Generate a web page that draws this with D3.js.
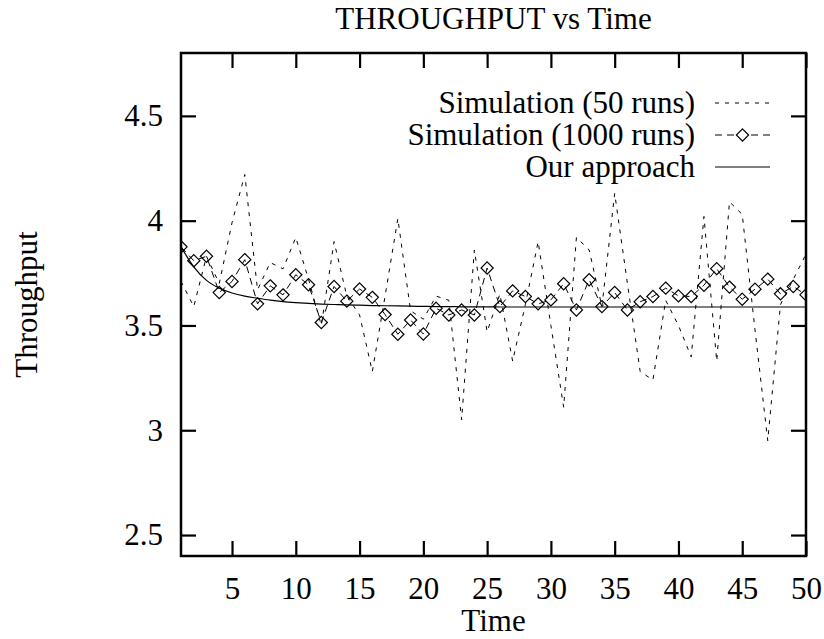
<!DOCTYPE html>
<html>
<head>
<meta charset="utf-8">
<script src="https://cdn.jsdelivr.net/npm/d3@7"></script>
<style>
  body { margin: 0; background: #fff; }
  svg text { font-family: "Liberation Serif", "Times New Roman", serif; fill: #000; }
</style>
</head>
<body>
<div id="chart"></div>
<script>
// -----------------------------
// DATA
// -----------------------------
const timeSteps = d3.range(1, 51);

// Simulation (50 runs) - short dashed line
const sim50 = [
  3.71, 3.59, 3.83, 3.70, 3.99, 4.22, 3.67, 3.80, 3.77, 3.92,
  3.72, 3.50, 3.90, 3.64, 3.55, 3.28, 3.64, 4.01, 3.57, 3.53,
  3.64, 3.62, 3.05, 3.86, 3.47, 3.65, 3.33, 3.60, 3.90, 3.50,
  3.11, 3.92, 3.86, 3.59, 4.13, 3.70, 3.28, 3.24, 3.62, 3.50,
  3.35, 4.02, 3.33, 4.09, 4.03, 3.48, 2.95, 3.60, 3.72, 3.84
];

// Simulation (1000 runs) - diamonds + long dashes
const sim1000 = [
  3.875, 3.809, 3.830, 3.657, 3.710, 3.814, 3.603, 3.689, 3.646, 3.742,
  3.694, 3.514, 3.686, 3.616, 3.674, 3.634, 3.552, 3.458, 3.526, 3.459,
  3.582, 3.550, 3.574, 3.550, 3.774, 3.590, 3.665, 3.638, 3.603, 3.622,
  3.699, 3.574, 3.718, 3.590, 3.657, 3.574, 3.613, 3.638, 3.678, 3.641,
  3.638, 3.692, 3.771, 3.683, 3.625, 3.673, 3.721, 3.651, 3.686, 3.646
];

// Our approach - solid curve
const approach = [
  3.875, 3.780, 3.715, 3.678, 3.655, 3.640, 3.630, 3.621, 3.614, 3.609,
  3.605, 3.602, 3.600, 3.598, 3.597, 3.595, 3.594, 3.593, 3.592, 3.591,
  3.590, 3.590, 3.589, 3.589, 3.589, 3.588, 3.588, 3.588, 3.588, 3.588,
  3.588, 3.588, 3.588, 3.588, 3.588, 3.588, 3.588, 3.588, 3.588, 3.588,
  3.588, 3.588, 3.588, 3.588, 3.588, 3.588, 3.588, 3.588, 3.588, 3.588
];

const xTicks = [5, 10, 15, 20, 25, 30, 35, 40, 45, 50];
const yTicks = [2.5, 3, 3.5, 4, 4.5];
const seriesNames = ["Simulation (50 runs)", "Simulation (1000 runs)", "Our approach"];

// -----------------------------
// LAYOUT
// -----------------------------
const width = 824;
const height = 639;
const plot = { left: 181, right: 806, top: 53, bottom: 556 };
const fontSize = 31;
const tickLen = 15;

const svg = d3.select("#chart")
  .append("svg")
  .attr("width", width)
  .attr("height", height);

// -----------------------------
// SCALES
// -----------------------------
const x = d3.scaleLinear().domain([1, 50]).range([plot.left, plot.right]);
const y = d3.scaleLinear().domain([2.4, 4.8]).range([plot.bottom, plot.top]);

svg.append("clipPath").attr("id", "plot-clip")
  .append("rect")
  .attr("x", plot.left).attr("y", plot.top)
  .attr("width", plot.right - plot.left)
  .attr("height", plot.bottom - plot.top);

// -----------------------------
// AXES (gnuplot style: inward ticks, mirrored)
// -----------------------------
const styleAxis = (g) => {
  g.select(".domain").remove();
  g.selectAll(".tick line").attr("stroke", "#000").attr("stroke-width", 2.2);
  g.selectAll(".tick text").style("font-size", fontSize + "px");
};

svg.append("g")
  .attr("transform", `translate(0,${plot.bottom})`)
  .call(d3.axisBottom(x).tickValues(xTicks).tickSizeInner(-tickLen).tickSizeOuter(0).tickPadding(21))
  .call(styleAxis);

svg.append("g")
  .attr("transform", `translate(0,${plot.top})`)
  .call(d3.axisTop(x).tickValues(xTicks).tickSizeInner(-tickLen).tickSizeOuter(0).tickFormat(""))
  .call(styleAxis);

svg.append("g")
  .attr("transform", `translate(${plot.left},0)`)
  .call(d3.axisLeft(y).tickValues(yTicks).tickSizeInner(-tickLen).tickSizeOuter(0).tickPadding(18)
    .tickFormat(d3.format("")))
  .call(styleAxis);

svg.append("g")
  .attr("transform", `translate(${plot.right},0)`)
  .call(d3.axisRight(y).tickValues(yTicks).tickSizeInner(-tickLen).tickSizeOuter(0).tickFormat(""))
  .call(styleAxis);

// Frame
svg.append("rect")
  .attr("x", plot.left).attr("y", plot.top)
  .attr("width", plot.right - plot.left)
  .attr("height", plot.bottom - plot.top)
  .attr("fill", "none")
  .attr("stroke", "#000")
  .attr("stroke-width", 2.5);

// Title + axis labels
svg.append("text")
  .attr("x", (plot.left + plot.right) / 2)
  .attr("y", 29)
  .attr("text-anchor", "middle")
  .style("font-size", fontSize + "px")
  .text("THROUGHPUT vs Time");

svg.append("text")
  .attr("x", (plot.left + plot.right) / 2)
  .attr("y", 631)
  .attr("text-anchor", "middle")
  .style("font-size", fontSize + "px")
  .text("Time");

svg.append("text")
  .attr("transform", `translate(37,${(plot.top + plot.bottom) / 2}) rotate(-90)`)
  .attr("text-anchor", "middle")
  .style("font-size", fontSize + "px")
  .text("Throughput");

// -----------------------------
// SERIES
// -----------------------------
const lineGen = (values, curve) => d3.line()
  .x((d, i) => x(timeSteps[i]))
  .y(d => y(d))
  .curve(curve)(values);

const diamond = d3.symbol().type(d3.symbolDiamond2).size(95);

const g = svg.append("g").attr("clip-path", "url(#plot-clip)");

g.append("path")
  .attr("d", lineGen(sim50, d3.curveLinear))
  .attr("fill", "none")
  .attr("stroke", "#000")
  .attr("stroke-width", 1)
  .attr("stroke-dasharray", "4,6");

g.append("path")
  .attr("d", lineGen(sim1000, d3.curveLinear))
  .attr("fill", "none")
  .attr("stroke", "#000")
  .attr("stroke-width", 1)
  .attr("stroke-dasharray", "7,5");

g.append("path")
  .attr("d", lineGen(approach, d3.curveMonotoneX))
  .attr("fill", "none")
  .attr("stroke", "#000")
  .attr("stroke-width", 1.2);

g.selectAll(".pt")
  .data(sim1000)
  .join("path")
  .attr("class", "pt")
  .attr("transform", (d, i) => `translate(${x(timeSteps[i])},${y(d)})`)
  .attr("d", diamond)
  .attr("fill", "none")
  .attr("stroke", "#000")
  .attr("stroke-width", 1.2);

// -----------------------------
// LEGEND (top right, text right-aligned)
// -----------------------------
const legend = svg.append("g");
const legendRows = [
  { name: seriesNames[0], dash: "4,6", marker: false },
  { name: seriesNames[1], dash: "7,5", marker: true },
  { name: seriesNames[2], dash: null, marker: false }
];

legendRows.forEach((row, i) => {
  const cy = 103 + i * 32;
  legend.append("text")
    .attr("x", 695)
    .attr("y", cy)
    .attr("dy", "0.33em")
    .attr("text-anchor", "end")
    .style("font-size", fontSize + "px")
    .text(row.name);

  legend.append("line")
    .attr("x1", 715).attr("x2", 770)
    .attr("y1", cy).attr("y2", cy)
    .attr("stroke", "#000")
    .attr("stroke-width", row.dash ? 1 : 1.2)
    .attr("stroke-dasharray", row.dash);

  if (row.marker) {
    legend.append("path")
      .attr("transform", `translate(742.5,${cy})`)
      .attr("d", diamond)
      .attr("fill", "#fff")
      .attr("stroke", "#000")
      .attr("stroke-width", 1.2);
  }
});
</script>
</body>
</html>
